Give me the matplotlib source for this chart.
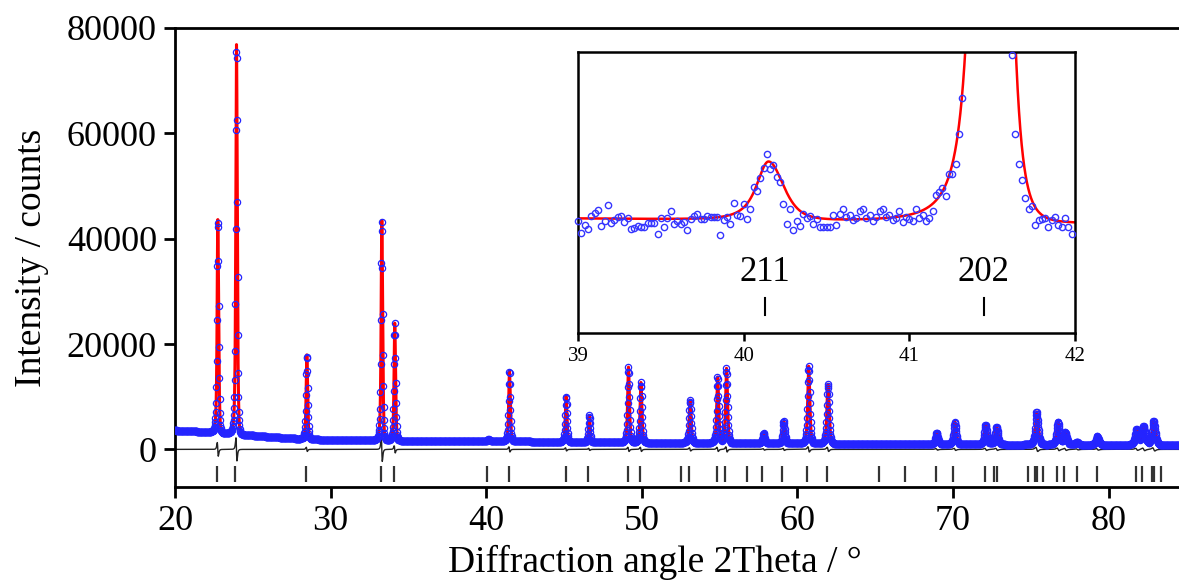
import numpy as np
import matplotlib.pyplot as plt
from matplotlib.transforms import blended_transform_factory

plt.rcParams['font.family'] = ['Liberation Serif', 'DejaVu Serif']

# ============== Refined pattern ==============
# background nodes (2theta, counts)
BG_POS = [20, 22, 24, 26, 28, 30, 35, 39, 42, 46, 50, 60, 70, 80, 85]
BG_VAL = [3600, 3300, 2900, 2400, 2000, 1800, 1650, 1560, 1535, 1350, 1300, 1100, 950, 850, 820]

# reflections: position, height above background, FWHM, difference amplitude
PEAK_POS = [22.75, 23.95, 28.47, 33.29, 34.12, 40.15, 41.49, 45.13, 46.62, 49.14,
            49.94, 53.10, 54.87, 55.44, 57.83, 59.12, 60.72, 61.96, 68.95, 70.12,
            72.10, 72.80, 75.38, 76.75, 77.22, 77.98, 79.28, 81.80, 82.25, 82.90]
PEAK_HEIGHT = [40500, 74000, 16000, 41800, 22300, 330, 13400, 8700, 5100, 14300,
               11400, 8100, 12500, 14200, 1900, 4200, 14700, 11300, 2200, 4200,
               3750, 3400, 6200, 4300, 2400, 500, 1600, 2900, 3500, 4500]
PEAK_FWHM = [0.10, 0.10, 0.10, 0.10, 0.10, 0.17, 0.107, 0.11, 0.11, 0.12,
             0.12, 0.13, 0.13, 0.13, 0.14, 0.14, 0.14, 0.15, 0.17, 0.17,
             0.18, 0.18, 0.19, 0.19, 0.19, 0.20, 0.20, 0.21, 0.21, 0.21]
DIFF_AMP = [1300, 2200, 400, 2300, 700, 0, 500, 300, 200, 400,
            400, 300, 400, 500, 150, 200, 500, 400, 150, 200,
            200, 200, 400, 250, 200, 100, 150, 200, 250, 300]

# Bragg positions (tick marks)
BRAGG = [22.68, 23.86, 28.42, 33.24, 34.07, 40.07, 41.47, 45.11, 46.56, 49.09,
         49.88, 52.52, 53.03, 54.81, 55.37, 56.74, 57.74, 59.03, 60.64, 61.88,
         65.26, 66.91, 68.91, 70.02, 72.06, 72.66, 72.81, 74.80, 75.27, 75.42,
         75.76, 76.66, 77.15, 77.95, 79.23, 81.74, 82.17, 82.81, 82.94, 83.35]

# inset: observed counts 39.00 .. 42.00, step 0.02 (nan = off scale)
INSET_START, INSET_STEP = 39.0, 0.02
INSET_OBS = [1546, 1480, 1522, 1499, 1576, 1593, 1608, 1516, 1544, 1635,
             1533, 1550, 1567, 1573, 1541, 1565, 1503, 1507, 1520, 1510,
             1514, 1533, 1535, 1533, 1475, 1565, 1509, 1563, 1601, 1527,
             1546, 1531, 1541, 1495, 1558, 1574, 1588, 1556, 1559, 1576,
             1569, 1571, 1571, 1465, 1550, 1571, 1526, 1648, 1582, 1574,
             1642, 1556, 1616, 1738, 1718, 1787, 1846, 1927, 1842, 1864,
             1795, 1765, 1642, 1531, 1612, 1492, 1544, 1516, 1584, 1563,
             1573, 1529, 1559, 1509, 1509, 1509, 1512, 1578, 1522, 1588,
             1616, 1569, 1578, 1550, 1565, 1603, 1616, 1563, 1582, 1548,
             1569, 1603, 1616, 1569, 1578, 1550, 1563, 1603, 1541, 1569,
             1559, 1544, 1616, 1565, 1578, 1546, 1563, 1603, 1695, 1710,
             1733, 1687, 1814, 1814, 1870, 2040, 2241, np.nan, np.nan, np.nan,
             np.nan, np.nan, np.nan, np.nan, np.nan, np.nan, np.nan, np.nan,
             np.nan, np.nan, np.nan, 2486, 2040, 1866, 1776, 1678, 1612, 1629,
             1522, 1550, 1556, 1563, 1512, 1550, 1569, 1522, 1512, 1563,
             1512, 1475]
INSET_LABELS = ['211', '202']
INSET_BRAGG = [40.13, 41.45]
# ==================================================================

# split Pearson VII: low-angle side has the longer tail
M_LEFT, M_RIGHT = 1.5, 3.0
R_WIDTH = 1.85
K = 2 * np.sqrt(2 ** (1 / M_LEFT) - 1)


def shape(x, c, a):
    u = (x - c) / a
    left = (1 + u ** 2) ** (-M_LEFT)
    right = (1 + (u / R_WIDTH) ** 2) ** (-M_RIGHT)
    return np.where(u < 0, left, right)


def calc_pattern(x):
    """Background + peaks"""
    y = np.interp(x, BG_POS, BG_VAL)
    for c, h, w in zip(PEAK_POS, PEAK_HEIGHT, PEAK_FWHM):
        y = y + h * shape(x, c, w / K)
    return y


def diff_pattern(x):
    """Obs - calc: dispersive wiggles at the peaks"""
    y = np.zeros_like(x)
    for c, d, w in zip(PEAK_POS, DIFF_AMP, PEAK_FWHM):
        u = (x - c) / (w / K)
        y = y + d * (-3 * u) * (1 + u * u) ** -2.5 / 0.859
    return y


tt = np.arange(20.0, 84.6, 0.02)
tt_fine = np.arange(20.0, 84.6, 0.004)
diff = diff_pattern(tt)
obs = calc_pattern(tt) + diff

fig = plt.figure(figsize=(11.79, 5.85), dpi=100)
ax = fig.add_axes([175 / 1179, 1 - 487.3 / 585, 1 - 175 / 1179, (487.3 - 28) / 585])

ax.plot(tt_fine, calc_pattern(tt_fine), color='red', lw=2.2, zorder=2)
ax.plot(tt, obs, 'o', ms=4.5, mfc='none', mec='#2424ff', mew=0.9, zorder=3)
ax.plot(tt, diff, color='#222222', lw=1, zorder=2)
ax.vlines(BRAGG, -6150, -3170, color='#333333', lw=1.6)

ax.set_xlim(20, 84.52)
ax.set_ylim(-7200, 80000)
ax.set_xticks(range(20, 81, 10))
ax.set_yticks(range(0, 80001, 20000))
ax.spines['right'].set_visible(False)
for s in ['left', 'top', 'bottom']:
    ax.spines[s].set_linewidth(2)
ax.tick_params(direction='out', length=8, width=2, labelsize=26, pad=5)
ax.set_xlabel('Diffraction angle 2Theta / °', fontsize=27, labelpad=5)
ax.xaxis.label.set_x(0.478)
ax.set_ylabel('Intensity / counts', fontsize=27, labelpad=13)

# ============== inset ==============
ax_in = fig.add_axes([578 / 1179, 1 - 333 / 585, 497 / 1179, 281 / 585])
xi = np.arange(39.0, 42.001, 0.002)
ax_in.plot(xi, calc_pattern(xi), color='red', lw=1.8, zorder=2)
xo = INSET_START + INSET_STEP * np.arange(len(INSET_OBS))
ax_in.plot(xo, INSET_OBS, 'o', ms=4.5, mfc='none', mec='#3535ff', mew=1, zorder=3, clip_on=False)
ax_in.set_xlim(39, 42)
ax_in.set_ylim(912, 2502)
ax_in.set_xticks([39, 40, 41, 42])
ax_in.set_yticks([])
for s in ax_in.spines.values():
    s.set_linewidth(1.8)
ax_in.tick_params(direction='out', length=6, width=1.8, labelsize=15, pad=4)

trans = blended_transform_factory(ax_in.transData, ax_in.transAxes)
for lab, pos in zip(INSET_LABELS, INSET_BRAGG):
    ax_in.text(pos, 0.217, lab, transform=trans, ha='center', va='center', fontsize=25)
    ax_in.plot([pos, pos], [0.064, 0.125], transform=trans, color='black', lw=1.5)

fig.savefig('out.png', dpi=100)
